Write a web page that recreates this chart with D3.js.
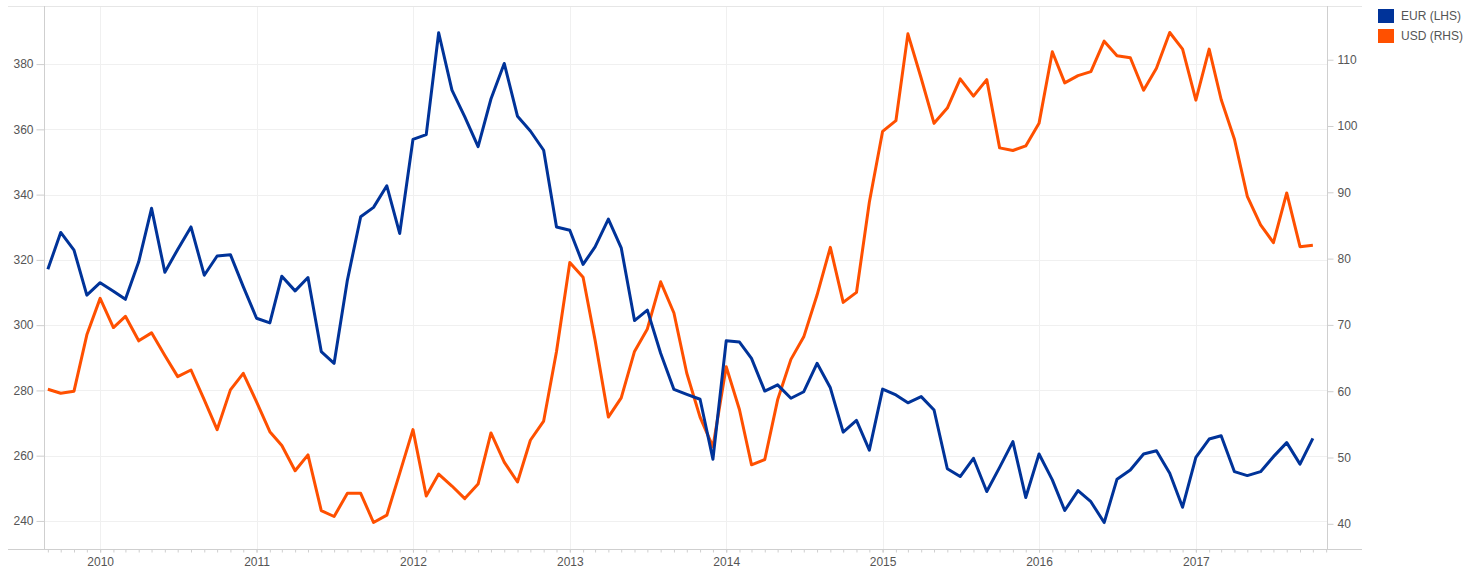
<!DOCTYPE html>
<html>
<head>
<meta charset="utf-8">
<script src="https://cdn.jsdelivr.net/npm/d3@7"></script>
<style>
  body { margin: 0; background: #fff; }
  text { font-family: "Liberation Sans", Arial, sans-serif; }
</style>
</head>
<body>
<div id="chart"></div>
<script>
// monthly series, Sep 2009 -> Oct 2017
var startMonth = new Date(2009, 8, 1);

var eurValues = [
  317.1, 328.4, 323.0, 309.2, 313.0, 310.4, 307.9, 319.4, 335.8, 316.2,
  323.2, 330.1, 315.3, 321.2, 321.6, 311.8, 302.1, 300.7, 315.0, 310.5,
  314.6, 291.9, 288.3, 313.8, 333.2, 336.1, 342.7, 328.1, 356.9, 358.4,
  389.6, 372.0, 363.8, 354.7, 369.3, 380.2, 364.0, 359.5, 353.6, 330.1,
  329.1, 318.6, 324.0, 332.5, 323.7, 301.4, 304.6, 291.4, 280.3, 278.8,
  277.3, 258.9, 295.2, 294.8, 289.8, 279.8, 281.7, 277.6, 279.6, 288.3,
  280.8, 267.2, 270.8, 261.7, 280.4, 278.6, 276.2, 278.1, 274.0, 256.0,
  253.6, 259.2, 249.0, 256.4, 264.3, 247.2, 260.5, 252.6, 243.2, 249.3,
  245.9, 239.5, 252.8, 255.6, 260.5, 261.5, 254.6, 244.2, 259.5, 265.1,
  266.1, 255.1, 253.9, 255.1, 259.7, 264.0, 257.4, 265.3
];

var usdValues = [
  60.3, 59.7, 60.0, 68.5, 74.0, 69.6, 71.3, 67.6, 68.8, 65.4,
  62.2, 63.2, 58.7, 54.2, 60.2, 62.7, 58.4, 53.9, 51.8, 48.0,
  50.4, 42.0, 41.1, 44.6, 44.6, 40.2, 41.3, 47.6, 54.2, 44.2,
  47.5, 45.7, 43.8, 46.0, 53.7, 49.3, 46.3, 52.6, 55.5, 66.0,
  79.4, 77.2, 67.7, 56.1, 59.0, 66.0, 69.4, 76.5, 71.8, 62.7,
  56.1, 51.6, 63.7, 57.2, 48.9, 49.7, 58.7, 64.8, 68.2, 74.5,
  81.7, 73.4, 74.9, 88.5, 99.2, 100.8, 113.9, 107.2, 100.4, 102.7,
  107.1, 104.5, 107.0, 96.7, 96.3, 97.0, 100.4, 111.2, 106.5, 107.6,
  108.2, 112.8, 110.6, 110.3, 105.4, 108.7, 114.1, 111.6, 103.9, 111.6,
  104.0, 98.0, 89.4, 85.1, 82.4, 89.9, 81.8, 82.0
];

var leftTicks = [240, 260, 280, 300, 320, 340, 360, 380];
var rightTicks = [40, 50, 60, 70, 80, 90, 100, 110];
var seriesNames = ["EUR (LHS)", "USD (RHS)"];
var seriesColors = ["#003399", "#ff5000"];

var svgWidth = 1468;
var svgHeight = 572;

// plot area (axis lines) and outer frame
var plot = { left: 44, right: 1327, top: 6, bottom: 549 };
var frame = { left: 8, right: 1362 };

var svg = d3.select("#chart")
  .append("svg")
  .attr("width", svgWidth)
  .attr("height", svgHeight);

var months = eurValues.map((v, i) => d3.timeMonth.offset(startMonth, i));

var xScale = d3.scaleTime()
  .domain([new Date(2009, 7, 23), new Date(2017, 10, 3)])
  .range([plot.left, plot.right]);

var yLeft = d3.scaleLinear()
  .domain([231.4, 397.8])
  .range([plot.bottom, plot.top]);

var yRight = d3.scaleLinear()
  .domain([36.2, 118.1])
  .range([plot.bottom, plot.top]);

// grid lines
var grid = svg.append("g").attr("stroke", "#f0f0f0").attr("stroke-width", 1);

grid.selectAll(".hgrid")
  .data(leftTicks)
  .enter()
  .append("line")
  .attr("x1", plot.left)
  .attr("x2", plot.right)
  .attr("y1", d => Math.round(yLeft(d)) + 0.5)
  .attr("y2", d => Math.round(yLeft(d)) + 0.5);

grid.selectAll(".vgrid")
  .data(xScale.ticks(d3.timeYear))
  .enter()
  .append("line")
  .attr("x1", d => Math.round(xScale(d)) + 0.5)
  .attr("x2", d => Math.round(xScale(d)) + 0.5)
  .attr("y1", plot.top)
  .attr("y2", plot.bottom);

// frame lines
svg.append("line")
  .attr("x1", frame.left).attr("x2", frame.right)
  .attr("y1", plot.top + 0.5).attr("y2", plot.top + 0.5)
  .attr("stroke", "#e6e6e6");

svg.append("line")
  .attr("x1", frame.left).attr("x2", frame.right)
  .attr("y1", plot.bottom + 0.5).attr("y2", plot.bottom + 0.5)
  .attr("stroke", "#cfcfcf");

// left axis
var leftAxis = svg.append("g")
  .attr("transform", `translate(${plot.left + 0.5}, 0)`)
  .call(d3.axisLeft(yLeft).tickValues(leftTicks).tickSize(8).tickPadding(3));

// right axis
var rightAxis = svg.append("g")
  .attr("transform", `translate(${plot.right + 0.5}, 0)`)
  .call(d3.axisRight(yRight).tickValues(rightTicks).tickSize(6).tickPadding(4));

// bottom axis: monthly minor ticks, year labels
var minorAxis = svg.append("g")
  .attr("transform", `translate(0, ${plot.bottom + 0.5})`)
  .call(d3.axisBottom(xScale).ticks(d3.timeMonth).tickSize(3).tickFormat(""));

var bottomAxis = svg.append("g")
  .attr("transform", `translate(0, ${plot.bottom + 0.5})`)
  .call(d3.axisBottom(xScale).ticks(d3.timeYear).tickSize(3).tickPadding(5)
    .tickFormat(d3.timeFormat("%Y")));

[leftAxis, rightAxis, minorAxis, bottomAxis].forEach(ax => {
  ax.select(".domain").attr("stroke", "#cfcfcf").attr("stroke-width", 1);
  ax.selectAll(".tick line").attr("stroke", "#cfcfcf");
  ax.selectAll(".tick text")
    .attr("fill", "#555")
    .attr("font-size", "12px")
    .attr("font-family", "'Liberation Sans', Arial, sans-serif");
});

// axis lines go full height of the plot
leftAxis.select(".domain").attr("d", `M0,${plot.top}V${plot.bottom}`);
rightAxis.select(".domain").attr("d", `M0,${plot.top}V${plot.bottom}`);
minorAxis.select(".domain").remove();
bottomAxis.select(".domain").remove();

// lines
var eurLine = d3.line()
  .x((d, i) => xScale(months[i]))
  .y(d => yLeft(d));

var usdLine = d3.line()
  .x((d, i) => xScale(months[i]))
  .y(d => yRight(d));

svg.append("path")
  .datum(usdValues)
  .attr("fill", "none")
  .attr("stroke", seriesColors[1])
  .attr("stroke-width", 3)
  .attr("stroke-linejoin", "round")
  .attr("d", usdLine);

svg.append("path")
  .datum(eurValues)
  .attr("fill", "none")
  .attr("stroke", seriesColors[0])
  .attr("stroke-width", 3)
  .attr("stroke-linejoin", "round")
  .attr("d", eurLine);

// legend
var legend = svg.append("g")
  .attr("transform", "translate(1378, 9)");

var legendItems = legend.selectAll("g")
  .data(seriesNames)
  .enter()
  .append("g")
  .attr("transform", (d, i) => `translate(0, ${i * 20})`);

legendItems.append("rect")
  .attr("width", 16)
  .attr("height", 14)
  .attr("fill", (d, i) => seriesColors[i]);

legendItems.append("text")
  .attr("x", 23)
  .attr("y", 11)
  .attr("font-size", "12px")
  .attr("fill", "#555")
  .text(d => d);
</script>
</body>
</html>
